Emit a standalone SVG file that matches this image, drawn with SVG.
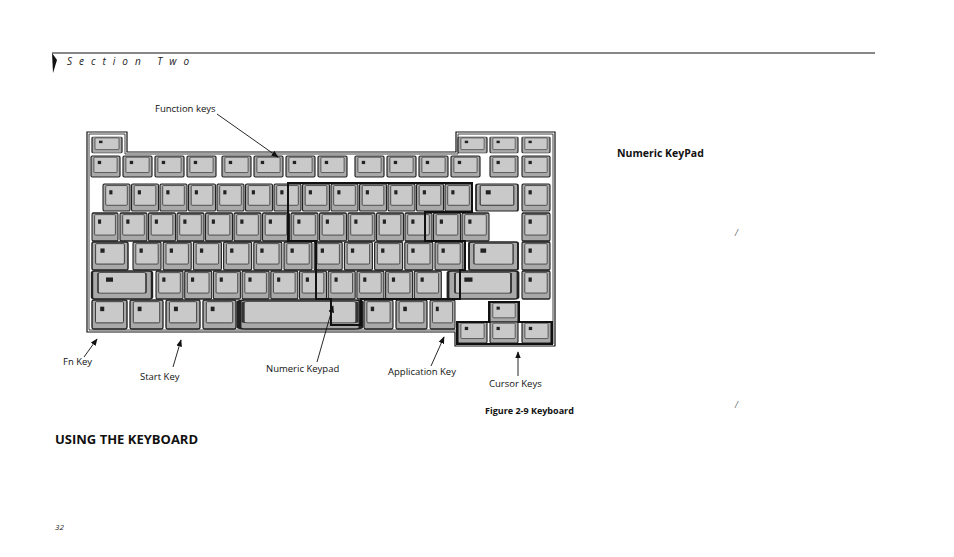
<svg xmlns="http://www.w3.org/2000/svg" width="954" height="557" viewBox="0 0 954 557">
<style>
.k{fill:#a9a9a9;stroke:#222;stroke-width:1.2}
.f{fill:#c9c9c9;stroke:#333;stroke-width:0.8}
.t{font-family:"Open Sans","Liberation Sans",sans-serif;font-size:9.5px;fill:#111}
.b{font-family:"Open Sans","Liberation Sans",sans-serif;font-weight:bold;fill:#111}
.ln{stroke:#111;stroke-width:0.9;fill:none;marker-end:url(#ah)}
</style>
<defs>
<marker id="ah" viewBox="0 0 10 10" refX="9" refY="5" markerWidth="8" markerHeight="8" orient="auto"><path d="M0,1 L10,5 L0,9 z" fill="#111"/></marker>
<symbol id="key" viewBox="0 0 30 26" preserveAspectRatio="none" overflow="visible"><rect class="k" x="0" y="0" width="30" height="26" rx="1.5"/><rect class="f" x="3" y="1.5" width="24" height="19" rx="1"/><rect x="7" y="6" width="3.5" height="4" fill="#222"/></symbol>
<symbol id="bar" viewBox="0 0 30 26" preserveAspectRatio="none" overflow="visible"><rect class="k" x="0" y="0" width="30" height="26" rx="1.5"/><rect class="f" x="1" y="1.5" width="28" height="19" rx="1"/></symbol>
</defs>
<g id="header">
<line x1="52" y1="53" x2="875" y2="53" stroke="#111" stroke-width="1"/>
<path d="M52,53 L57,60 L53,73 z" fill="#111"/>
<text x="67" y="65" font-family="'Open Sans','Liberation Sans',sans-serif" font-style="italic" font-size="10" letter-spacing="7" fill="#222">Section  Two</text>
</g>
<g id="keyboard">
<path d="M87,132 H127 V152 H456 V132 H555 V346 H455 V332 H87 Z" fill="#fff" stroke="#111" stroke-width="1.2"/>
<path d="M89,134 H125 V154 H458 V134 H553 V344 H457 V330 H89 Z" fill="none" stroke="#111" stroke-width="0.8"/>
<use href="#key" x="92" y="137" width="30" height="16"/>
<use href="#key" x="458" y="137" width="29" height="16"/><use href="#key" x="490" y="137" width="28" height="16"/><use href="#key" x="522" y="137" width="28" height="16"/>
<use href="#key" x="91" y="156" width="29" height="21"/><use href="#key" x="123" y="156" width="29" height="21"/><use href="#key" x="155" y="156" width="29" height="21"/><use href="#key" x="187" y="156" width="29" height="21"/>
<use href="#key" x="222" y="156" width="29" height="21"/><use href="#key" x="254" y="156" width="29" height="21"/><use href="#key" x="286" y="156" width="29" height="21"/><use href="#key" x="318" y="156" width="29" height="21"/>
<use href="#key" x="355" y="156" width="29" height="21"/><use href="#key" x="387" y="156" width="29" height="21"/><use href="#key" x="419" y="156" width="29" height="21"/><use href="#key" x="451" y="156" width="29" height="21"/>
<use href="#key" x="490" y="156" width="28" height="21"/><use href="#key" x="522" y="156" width="28" height="21"/>
<use href="#key" x="103" y="184" width="27" height="27"/><use href="#key" x="131.5" y="184" width="27" height="27"/><use href="#key" x="160" y="184" width="27" height="27"/><use href="#key" x="188.5" y="184" width="27" height="27"/><use href="#key" x="217" y="184" width="27" height="27"/><use href="#key" x="245.5" y="184" width="27" height="27"/><use href="#key" x="274" y="184" width="27" height="27"/><use href="#key" x="302.5" y="184" width="27" height="27"/><use href="#key" x="331" y="184" width="27" height="27"/><use href="#key" x="359.5" y="184" width="27" height="27"/><use href="#key" x="388" y="184" width="27" height="27"/><use href="#key" x="416.5" y="184" width="27" height="27"/><use href="#key" x="445" y="184" width="27" height="27"/>
<use href="#key" x="476" y="184" width="42" height="27"/><use href="#key" x="522" y="184" width="28" height="27"/>
<use href="#key" x="92" y="213" width="26" height="28"/>
<use href="#key" x="120" y="213" width="27" height="28"/><use href="#key" x="148.5" y="213" width="27" height="28"/><use href="#key" x="177" y="213" width="27" height="28"/><use href="#key" x="205.5" y="213" width="27" height="28"/><use href="#key" x="234" y="213" width="27" height="28"/><use href="#key" x="262.5" y="213" width="27" height="28"/><use href="#key" x="291" y="213" width="27" height="28"/><use href="#key" x="319.5" y="213" width="27" height="28"/><use href="#key" x="348" y="213" width="27" height="28"/><use href="#key" x="376.5" y="213" width="27" height="28"/><use href="#key" x="405" y="213" width="27" height="28"/><use href="#key" x="433.5" y="213" width="27" height="28"/><use href="#key" x="462" y="213" width="27" height="28"/>
<use href="#key" x="522" y="213" width="28" height="28"/>
<use href="#key" x="92" y="242" width="36" height="28"/>
<use href="#key" x="133" y="242" width="28" height="28"/><use href="#key" x="163.2" y="242" width="28" height="28"/><use href="#key" x="193.4" y="242" width="28" height="28"/><use href="#key" x="223.6" y="242" width="28" height="28"/><use href="#key" x="253.8" y="242" width="28" height="28"/><use href="#key" x="284" y="242" width="28" height="28"/><use href="#key" x="314.2" y="242" width="28" height="28"/><use href="#key" x="344.4" y="242" width="28" height="28"/><use href="#key" x="374.6" y="242" width="28" height="28"/><use href="#key" x="404.8" y="242" width="28" height="28"/><use href="#key" x="435" y="242" width="28" height="28"/>
<use href="#key" x="469" y="242" width="49" height="28"/><use href="#key" x="522" y="242" width="28" height="28"/>
<use href="#key" x="92" y="271" width="60" height="28"/>
<use href="#key" x="156" y="271" width="27" height="28"/><use href="#key" x="184.7" y="271" width="27" height="28"/><use href="#key" x="213.4" y="271" width="27" height="28"/><use href="#key" x="242.1" y="271" width="27" height="28"/><use href="#key" x="270.8" y="271" width="27" height="28"/><use href="#key" x="299.5" y="271" width="27" height="28"/><use href="#key" x="328.2" y="271" width="27" height="28"/><use href="#key" x="356.9" y="271" width="27" height="28"/><use href="#key" x="385.6" y="271" width="27" height="28"/><use href="#key" x="414.3" y="271" width="27" height="28"/>
<use href="#key" x="448" y="271" width="70" height="28"/><use href="#key" x="522" y="271" width="28" height="28"/>
<use href="#key" x="92" y="300" width="35" height="29"/><use href="#key" x="130" y="300" width="33" height="29"/><use href="#key" x="166" y="300" width="34" height="29"/><use href="#key" x="203" y="300" width="33" height="29"/>
<use href="#bar" x="239" y="300" width="122" height="29"/>
<use href="#key" x="364" y="300" width="29" height="29"/><use href="#key" x="396" y="300" width="31" height="29"/><use href="#key" x="430" y="300" width="25" height="29"/>
<use href="#key" x="490" y="302" width="28" height="20"/>
<use href="#key" x="458" y="322" width="29" height="21"/><use href="#key" x="490" y="322" width="28" height="21"/><use href="#key" x="522" y="322" width="29" height="21"/>
<path d="M489,302 H519 V322 H552 V344 H457 V322 H489 Z" fill="none" stroke="#111" stroke-width="2"/>
<path d="M288,183 V241 H316 V299 H331 V325 H361 V299 H460 V270 H465 V241 H425 V212 H472 V183 Z" fill="none" stroke="#111" stroke-width="2"/>
</g>
<g id="connectors">
<line class="ln" x1="217" y1="114" x2="278" y2="157"/>
<line class="ln" x1="84" y1="357" x2="97" y2="339"/>
<line class="ln" x1="173" y1="367" x2="181" y2="340"/>
<line class="ln" x1="317" y1="362" x2="333" y2="306"/>
<line class="ln" x1="431" y1="366" x2="444" y2="337"/>
<line class="ln" x1="518" y1="376" x2="518" y2="352"/>
</g>
<g id="labels">
<text class="t" x="155" y="112">Function keys</text>
<text class="t" x="63" y="365">Fn Key</text>
<text class="t" x="140" y="380">Start Key</text>
<text class="t" x="266" y="372">Numeric Keypad</text>
<text class="t" x="388" y="375">Application Key</text>
<text class="t" x="489" y="387">Cursor Keys</text>
<text class="b" x="485" y="414" font-size="9">Figure 2-9 Keyboard</text>
<text class="b" x="617" y="157" font-size="10.5">Numeric KeyPad</text>
<text class="b" x="55" y="444" font-size="13">USING THE KEYBOARD</text>
<text x="55" y="530" font-family="'Open Sans','Liberation Sans',sans-serif" font-style="italic" font-size="8" fill="#222">32</text>
<text x="735" y="236" font-family="'Liberation Serif',serif" font-style="italic" font-size="10" fill="#222">/</text>
<text x="735" y="408" font-family="'Liberation Serif',serif" font-style="italic" font-size="10" fill="#222">/</text>
</g>
</svg>
